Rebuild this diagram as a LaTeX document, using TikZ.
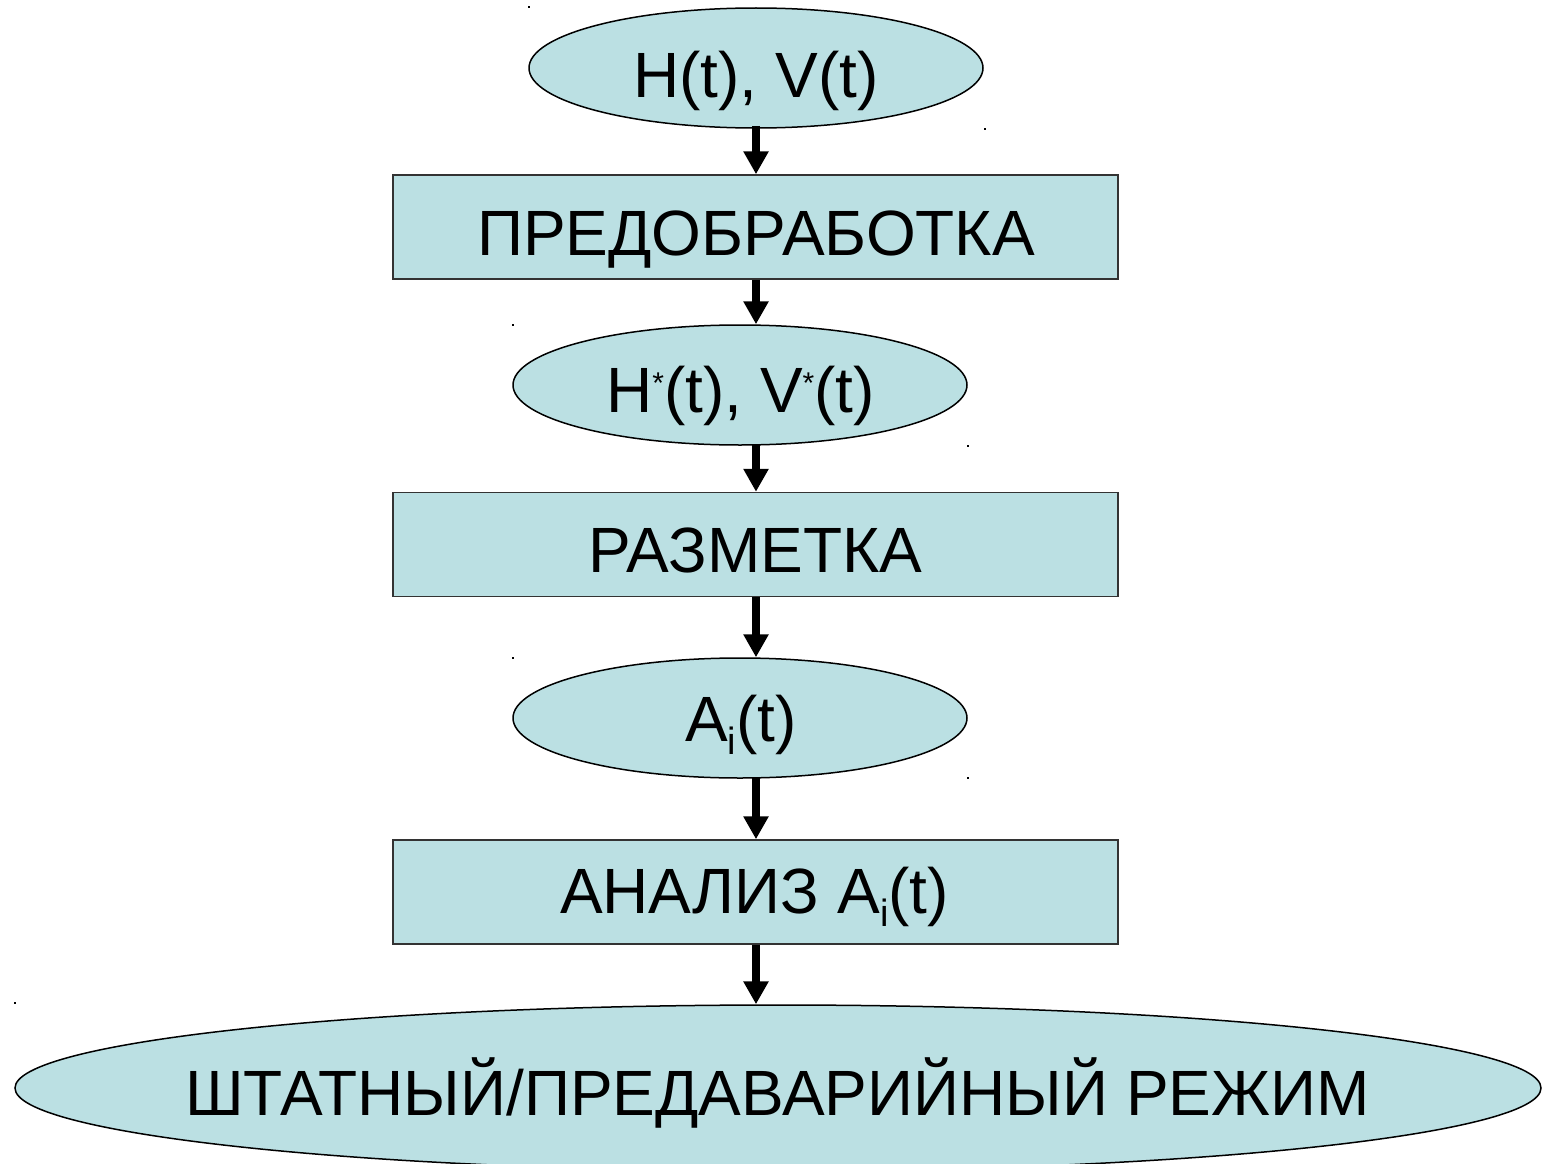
\documentclass[tikz,border=0pt]{standalone}
\usepackage{fontspec}
\setmainfont{Liberation Sans}
\usetikzlibrary{shapes.geometric,arrows.meta}
\definecolor{boxfill}{HTML}{BBE0E3}
\tikzset{
  ell/.style={ellipse,draw=black,line width=1.5pt,fill=boxfill,inner sep=0pt},
  rectbox/.style={rectangle,draw=black!80,line width=1.5pt,fill=boxfill,inner sep=0pt,minimum width=725pt,minimum height=104pt},
  lbl/.style={anchor=base,inner sep=0pt,font=\fontsize{64}{72}\selectfont},
  arr/.style={line width=8pt,-{Triangle[width=24pt,length=23pt]}},
  speck/.style={fill=black}
}
\newcommand{\supstar}{\raisebox{19pt}{\fontsize{30}{32}\selectfont *}}
\newcommand{\subi}{\raisebox{-13pt}{\fontsize{38}{40}\selectfont i}}
\begin{document}
\begin{tikzpicture}[x=1pt,y=-1pt]
\useasboundingbox (0,0) rectangle (1544,1164);
\node[ell,minimum width=454pt,minimum height=120pt] (e1) at (756,68) {};
\node[rectbox] (r1) at (755.5,227) {};
\node[ell,minimum width=454pt,minimum height=120pt] (e2) at (740,385) {};
\node[rectbox] (r2) at (755.5,544.5) {};
\node[ell,minimum width=454pt,minimum height=120pt] (e3) at (740,718) {};
\node[rectbox] (r3) at (755.5,892) {};
\node[ell,minimum width=1526pt,minimum height=166pt] (e4) at (778,1088) {};
\node[lbl] (t1) at (756,97) {H(t), V(t)};
\node[lbl] (t2) at (756,255) {ПРЕДОБРАБОТКА};
\node[lbl] (t3) at (740.5,412) {H\supstar(t), V\supstar(t)};
\node[lbl] (t4) at (755.5,572) {РАЗМЕТКА};
\node[lbl] (t5) at (741,741) {A\subi(t)};
\node[lbl] (t6) at (754.5,913) {АНАЛИЗ A\subi(t)};
\node[lbl] (t7) at (777.5,1115) {ШТАТНЫЙ/ПРЕДАВАРИЙНЫЙ РЕЖИМ};
\coordinate (x0) at (756,0);
\draw[arr] (e1.south -| x0) ++(0,-3) -- (r1.north -| x0);
\draw[arr] (r1.south -| x0) -- (e2.north -| x0);
\draw[arr] (e2.south -| x0) ++(0,-2) -- (r2.north -| x0);
\draw[arr] (r2.south -| x0) -- (e3.north -| x0);
\draw[arr] (e3.south -| x0) ++(0,-2) -- (r3.north -| x0);
\draw[arr] (r3.south -| x0) -- (e4.north -| x0);
\foreach \p in {(529,7),(985,129),(513,325),(968,446),(513,658),(968,778),(15,1003)}
  \fill[speck] \p ++(-1,-1) rectangle ++(2,2);
\end{tikzpicture}
\end{document}
